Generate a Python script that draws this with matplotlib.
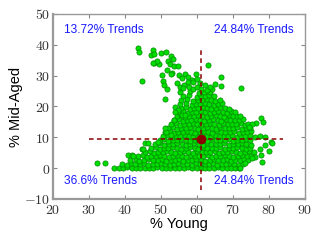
import matplotlib
matplotlib.use("Agg")
import matplotlib.pyplot as plt
from matplotlib.ticker import FuncFormatter
import numpy as np

plt.rcParams['mathtext.fontset'] = 'cm'

# ---- dense core, bottom band ----
young_core_a = [
    37.0, 38.3, 39.5, 40.6, 41.9, 43.0, 44.2, 45.5, 46.7, 47.8, 49.0, 50.3, 51.5, 52.6, 53.8,
    55.1, 56.3, 57.4, 58.6, 59.9, 61.1, 62.2, 63.4, 64.7, 65.9, 67.0, 68.2, 69.5, 70.6, 71.8,
    39.2, 40.5, 41.6, 42.8, 44.1, 45.2, 46.4, 47.7, 48.9, 50.0, 51.2, 52.5, 53.7, 54.8, 56.0,
    57.3, 58.5, 59.6, 60.8, 62.1, 63.3, 64.4, 65.6, 66.9, 68.1, 69.2, 70.4, 71.7, 72.9,
    41.5, 42.9, 44.0, 45.3, 46.6, 47.8, 49.1, 50.3, 51.4, 52.7, 53.9, 55.0, 56.2, 57.5, 58.7,
    59.8, 61.0, 62.3, 63.5, 64.6, 65.8, 67.1, 68.3, 69.4, 70.6, 71.9, 73.1, 74.3,
    43.6, 45.0, 46.2, 47.3, 48.6, 49.8, 50.9, 52.1, 53.4, 54.6, 55.7, 56.9, 58.2, 59.4, 60.5,
    61.7, 63.0, 64.2, 65.3, 66.5, 67.8, 69.0, 70.1, 71.3, 72.6, 73.8, 75.0,
    45.6, 46.9, 48.0, 49.2, 50.5, 51.7, 52.8, 54.0, 55.3, 56.5, 57.6, 58.8, 60.1, 61.3, 62.4,
    63.6, 64.9, 66.1, 67.2, 68.4, 69.7, 70.9, 72.0, 73.2, 74.5, 75.7,
]
mid_core_a = [
    0.0, 0.2, 0.0, 0.3, 0.0, 0.1, 0.0, 0.2, 0.0, 0.0, 0.3, 0.0, 0.1, 0.0, 0.2,
    0.0, 0.0, 0.3, 0.0, 0.1, 0.0, 0.2, 0.0, 0.0, 0.3, 0.0, 0.1, 0.0, 0.2, 0.0,
    1.4, 1.1, 1.5, 1.2, 1.3, 1.6, 1.0, 1.4, 1.2, 1.5, 1.3, 1.1, 1.4, 1.6, 1.2,
    1.3, 1.0, 1.5, 1.4, 1.2, 1.3, 1.6, 1.1, 1.4, 1.2, 1.5, 1.3, 1.0, 1.4,
    2.5, 2.8, 2.4, 2.7, 2.9, 2.5, 2.6, 2.8, 2.3, 2.7, 2.6, 2.9, 2.4, 2.7, 2.5,
    2.8, 2.6, 2.3, 2.7, 2.9, 2.5, 2.6, 2.8, 2.4, 2.7, 2.6, 2.9, 2.5,
    3.8, 4.1, 3.7, 4.0, 3.9, 4.2, 3.8, 3.6, 4.0, 4.1, 3.9, 3.7, 4.2, 3.8, 4.0,
    3.9, 4.1, 3.7, 4.0, 3.8, 4.2, 3.9, 3.6, 4.0, 4.1, 3.8, 3.9,
    5.1, 5.4, 5.0, 5.3, 5.2, 5.5, 5.1, 4.9, 5.3, 5.4, 5.2, 5.0, 5.5, 5.1, 5.3,
    5.2, 5.4, 5.0, 5.3, 5.1, 5.5, 5.2, 4.9, 5.3, 5.4, 5.1,
]

# ---- dense core, middle band ----
young_core_b = [
    47.2, 48.5, 49.7, 50.8, 52.0, 53.3, 54.5, 55.6, 56.8, 58.1, 59.3, 60.4, 61.6, 62.9, 64.1,
    65.2, 66.4, 67.7, 68.9, 70.0, 71.2, 72.5, 73.7, 74.8,
    48.4, 49.6, 50.9, 52.1, 53.2, 54.4, 55.7, 56.9, 58.0, 59.2, 60.5, 61.7, 62.8, 64.0, 65.3,
    66.5, 67.6, 68.8, 70.1, 71.3, 72.4, 73.6, 74.9,
    49.6, 50.8, 52.0, 53.3, 54.5, 55.6, 56.8, 58.1, 59.3, 60.4, 61.6, 62.9, 64.1, 65.2, 66.4,
    67.7, 68.9, 70.0, 71.2, 72.5, 73.7, 74.8,
    50.6, 51.9, 53.1, 54.2, 55.4, 56.7, 57.9, 59.0, 60.2, 61.5, 62.7, 63.8, 65.0, 66.3, 67.5,
    68.6, 69.8, 71.1, 72.3, 73.4, 74.6,
    51.2, 52.4, 53.5, 54.7, 56.0, 57.2, 58.3, 59.5, 60.8, 62.0, 63.1, 64.3, 65.6, 66.8, 67.9,
    69.1, 70.4, 71.6, 72.7, 73.9, 75.0,
    52.0, 53.3, 54.5, 55.6, 56.8, 58.1, 59.3, 60.4, 61.6, 62.9, 64.1, 65.2, 66.4, 67.7, 68.9,
    70.0, 71.2, 72.5, 73.7, 74.7,
]
mid_core_b = [
    6.4, 6.7, 6.3, 6.6, 6.5, 6.8, 6.4, 6.2, 6.6, 6.7, 6.5, 6.3, 6.8, 6.4, 6.6,
    6.5, 6.7, 6.3, 6.6, 6.4, 6.8, 6.5, 6.2, 6.6,
    7.7, 8.0, 7.6, 7.9, 7.8, 8.1, 7.7, 7.5, 7.9, 8.0, 7.8, 7.6, 8.1, 7.7, 7.9,
    7.8, 8.0, 7.6, 7.9, 7.7, 8.1, 7.8, 7.5,
    9.0, 9.3, 8.9, 9.2, 9.1, 9.4, 9.0, 8.8, 9.2, 9.3, 9.1, 8.9, 9.4, 9.0, 9.2,
    9.1, 9.3, 8.9, 9.2, 9.0, 9.4, 9.1,
    10.3, 10.6, 10.2, 10.5, 10.4, 10.7, 10.3, 10.1, 10.5, 10.6, 10.4, 10.2, 10.7, 10.3, 10.5,
    10.4, 10.6, 10.2, 10.5, 10.3, 10.7,
    11.6, 11.9, 11.5, 11.8, 11.7, 12.0, 11.6, 11.4, 11.8, 11.9, 11.7, 11.5, 12.0, 11.6, 11.8,
    11.7, 11.9, 11.5, 11.8, 11.6, 12.0,
    12.9, 13.2, 12.8, 13.1, 13.0, 13.3, 12.9, 12.7, 13.1, 13.2, 13.0, 12.8, 13.3, 12.9, 13.1,
    13.0, 13.2, 12.8, 13.1, 12.9,
]

# ---- dense core, upper band ----
young_core_c = [
    52.9, 54.1, 55.2, 56.4, 57.7, 58.9, 60.0, 61.2, 62.5, 63.7, 64.8, 66.0, 67.3, 68.5, 69.6,
    70.8, 72.1, 73.3, 74.2,
    53.6, 54.9, 56.1, 57.2, 58.4, 59.7, 60.9, 62.0, 63.2, 64.5, 65.7, 66.8, 68.0, 69.3, 70.5,
    71.6, 72.8,
    54.4, 55.6, 56.7, 57.9, 59.2, 60.4, 61.5, 62.7, 64.0, 65.2, 66.3, 67.5, 68.8, 70.0, 71.1,
    72.0,
    55.0, 56.2, 57.5, 58.7, 59.8, 61.0, 62.3, 63.5, 64.6, 65.8, 67.1, 68.3, 69.4, 70.6,
    55.6, 56.9, 58.1, 59.2, 60.4, 61.7, 62.9, 64.0, 65.2, 66.5, 67.7, 68.8,
    55.3, 56.8, 58.6, 59.8, 60.9, 62.1, 63.4, 64.6, 65.7, 66.9,
    55.5, 57.2, 59.0, 60.2, 61.5, 62.7, 63.8, 65.0, 66.3,
    56.0, 57.8, 59.9, 61.1, 62.2, 63.4, 64.7,
    55.2, 58.0, 60.6, 62.0, 63.5,
]
mid_core_c = [
    14.2, 14.5, 14.1, 14.4, 14.3, 14.6, 14.2, 14.0, 14.4, 14.5, 14.3, 14.1, 14.6, 14.2, 14.4,
    14.3, 14.5, 14.1, 14.4,
    15.5, 15.8, 15.4, 15.7, 15.6, 15.9, 15.5, 15.3, 15.7, 15.8, 15.6, 15.4, 15.9, 15.5, 15.7,
    15.6, 15.8,
    16.8, 17.1, 16.7, 17.0, 16.9, 17.2, 16.8, 16.6, 17.0, 17.1, 16.9, 16.7, 17.2, 16.8, 17.0,
    16.9,
    18.1, 18.4, 18.0, 18.3, 18.2, 18.5, 18.1, 17.9, 18.3, 18.4, 18.2, 18.0, 18.5, 18.1,
    19.4, 19.7, 19.3, 19.6, 19.5, 19.8, 19.4, 19.2, 19.6, 19.7, 19.5, 19.3,
    20.7, 21.0, 20.6, 20.9, 20.8, 21.1, 20.7, 20.5, 20.9, 21.0,
    22.0, 22.3, 21.9, 22.2, 22.1, 22.4, 22.0, 21.8, 22.2,
    23.3, 23.6, 23.2, 23.5, 23.4, 23.7, 23.3,
    24.6, 24.9, 24.5, 24.8, 24.7,
]

# ---- sparse upper points ----
young_upper = [
    43.7, 44.0, 47.7, 47.2, 48.1, 50.0, 51.4, 52.8, 53.3, 52.0, 52.5, 48.1, 49.3, 48.9, 47.9,
    53.7, 54.8, 51.6, 53.0, 50.4, 52.7, 44.6, 55.1, 56.7, 55.9, 57.6, 58.5, 59.6, 63.0, 66.8,
    50.6, 50.9, 51.6, 54.4, 55.3, 57.6, 59.0, 59.9, 60.8, 65.0, 64.1, 62.7, 66.7, 72.1, 51.1,
    53.9, 54.6, 56.5, 57.8, 58.9, 60.1, 61.2, 63.5, 62.2, 56.2,
]
mid_upper = [
    38.9, 37.8, 38.3, 36.8, 36.9, 37.3, 37.7, 36.5, 35.4, 34.8, 33.6, 34.2, 33.6, 34.6, 34.0,
    33.2, 33.0, 31.8, 30.8, 30.2, 30.4, 28.4, 30.2, 30.6, 29.3, 29.7, 28.6, 30.5, 33.4, 29.7,
    28.4, 27.0, 25.8, 27.5, 26.4, 28.0, 28.0, 28.8, 27.5, 27.4, 25.6, 25.4, 26.6, 25.9, 22.3,
    19.9, 18.8, 27.0, 26.2, 25.6, 26.4, 25.8, 26.2, 27.0, 25.9,
]

# ---- edge / outlying points ----
young_edge = [
    32.1, 34.3, 40.9, 41.9, 42.3, 44.6, 45.1, 45.6, 46.5, 49.2, 51.4, 51.1, 52.8, 53.9, 53.6,
    55.9, 56.7, 77.8, 78.4, 76.4, 75.4, 74.5, 76.1, 77.5, 78.9, 80.5, 80.7, 78.9, 77.5, 80.1,
    77.8, 76.1, 75.2, 78.0, 71.9, 73.3,
]
mid_edge = [
    1.6, 1.8, 4.3, 4.3, 3.9, 6.1, 6.3, 8.1, 8.3, 8.6, 11.8, 12.9, 10.8, 18.3, 15.6,
    17.2, 17.2, 16.3, 15.1, 14.6, 14.2, 13.4, 10.2, 10.4, 10.2, 8.6, 8.1, 7.5, 6.2, 5.7,
    4.3, 3.7, 3.2, 2.1, 0.0, 1.6,
]

mean_young = 61.1
mean_mid = 9.4
vline_span = [-7.0, 39.0]
hline_span = [30.0, 84.0]

quad_labels = ["13.72% Trends", "24.84% Trends", "36.6% Trends", "24.84% Trends"]
quad_x = [23.0, 64.6, 23.0, 64.6]
quad_y = [44.8, 44.8, -4.3, -4.3]

x_ticks = [20, 30, 40, 50, 60, 70, 80, 90]
y_ticks = [-10, 0, 10, 20, 30, 40, 50]

young = np.concatenate([young_core_a, young_core_b, young_core_c, young_upper, young_edge])
mid = np.concatenate([mid_core_a, mid_core_b, mid_core_c, mid_upper, mid_edge])

fig = plt.figure(figsize=(3.2, 2.4), dpi=100)
ax = fig.add_axes([0.166, 0.171, 0.787, 0.771])

ax.scatter(young, mid, s=14, c='#00dd00', edgecolors='#008a00', linewidths=0.5, zorder=2)

ax.plot([mean_young, mean_young], vline_span, color='#8b0000', lw=1.1,
        linestyle=(0, (3, 2.2)), zorder=3)
ax.plot(hline_span, [mean_mid, mean_mid], color='#8b0000', lw=1.1,
        linestyle=(0, (3, 2.2)), zorder=3)
ax.plot([mean_young], [mean_mid], 'o', color='#8b0000', ms=6, zorder=4)

for lab, tx, ty in zip(quad_labels, quad_x, quad_y):
    ax.text(tx, ty, lab, color='#1a1aff', fontsize=8.6, family='Liberation Sans',
            ha='left', va='center')

ax.set_xlim(20, 90)
ax.set_ylim(-10, 50)
ax.set_xticks(x_ticks)
ax.set_yticks(y_ticks)
fmt = FuncFormatter(lambda v, p: r'$%d$' % int(round(v)))
ax.xaxis.set_major_formatter(fmt)
ax.yaxis.set_major_formatter(fmt)
ax.tick_params(direction='in', length=3, width=0.8, color='#888888',
               top=True, right=True, labelsize=10, labelcolor='#333333', pad=2)
ax.tick_params(axis='x', pad=3)
for sp in ax.spines.values():
    sp.set_color('#999999')
    sp.set_linewidth(1.0)
ax.spines['left'].set_linewidth(1.6)
ax.spines['bottom'].set_linewidth(1.6)

ax.set_xlabel('% Young', fontsize=10.5, family='Liberation Sans', labelpad=0)
ax.set_ylabel('% Mid-Aged', fontsize=10.5, family='Liberation Sans', labelpad=1)

fig.savefig('out.png', dpi=100)
